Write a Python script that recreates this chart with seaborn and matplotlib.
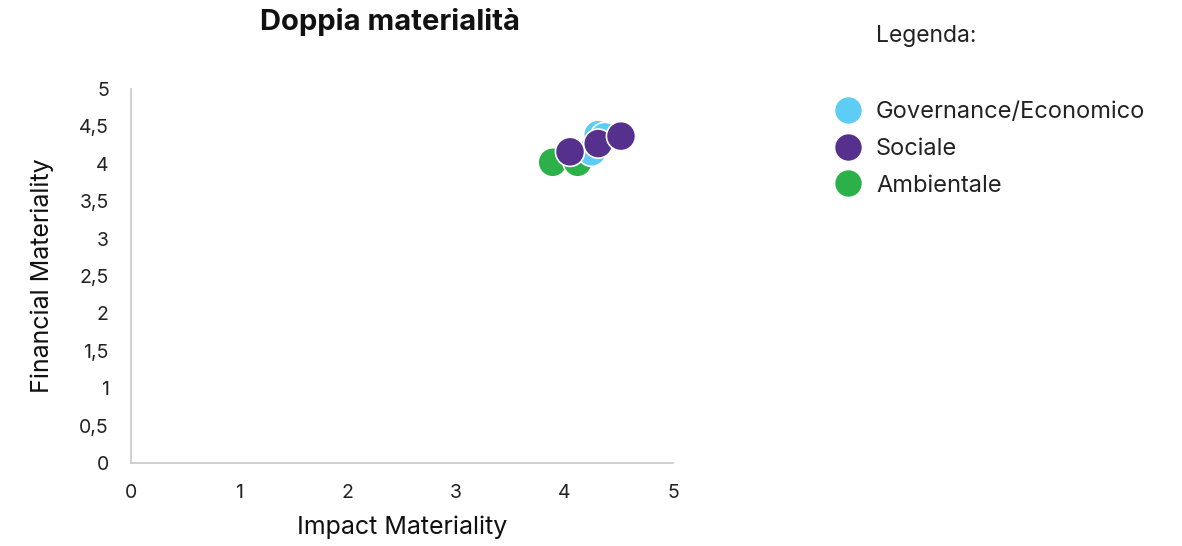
import pandas as pd
import seaborn as sns
import matplotlib.pyplot as plt
from matplotlib.ticker import FuncFormatter

# Values
categories = ['Ambientale', 'Ambientale', 'Governance/Economico', 'Governance/Economico',
              'Governance/Economico', 'Sociale', 'Sociale', 'Sociale']
impact = [3.89, 4.12, 4.25, 4.31, 4.37, 4.31, 4.52, 4.05]
financial = [4.02, 4.02, 4.16, 4.39, 4.36, 4.27, 4.37, 4.16]

hue_order = ['Governance/Economico', 'Sociale', 'Ambientale']
palette = {'Governance/Economico': '#5DCDF5', 'Sociale': '#55308D', 'Ambientale': '#2BB04A'}

df = pd.DataFrame({'Impact Materiality': impact,
                   'Financial Materiality': financial,
                   'Categoria': categories})

sns.set_style("white")
plt.rcParams['font.family'] = ['Inter', 'DejaVu Sans']

fig = plt.figure(figsize=(11.82, 5.46), dpi=100)
ax = fig.add_axes([131 / 1182, 1 - 463 / 546, 542 / 1182, 374 / 546])

sns.scatterplot(data=df, x='Impact Materiality', y='Financial Materiality',
                hue='Categoria', hue_order=hue_order, palette=palette,
                s=440, edgecolor='white', linewidth=1.2, ax=ax, legend=False)

ax.set_xlim(0, 5)
ax.set_ylim(0, 5)
ax.set_xticks([0, 1, 2, 3, 4, 5])
ax.set_yticks([i * 0.5 for i in range(11)])
fmt = FuncFormatter(lambda v, p: ('%g' % v).replace('.', ','))
ax.xaxis.set_major_formatter(fmt)
ax.yaxis.set_major_formatter(fmt)
ax.tick_params(axis='both', length=0, labelsize=14, colors='#222222', pad=15)
ax.tick_params(axis='y', pad=16)
for side in ['top', 'right']:
    ax.spines[side].set_visible(False)
for side in ['left', 'bottom']:
    ax.spines[side].set_color('#c8c8c8')
    ax.spines[side].set_linewidth(1.2)

ax.set_xlabel('Impact Materiality', fontsize=18, color='#111111', labelpad=10)
ax.set_ylabel('Financial Materiality', fontsize=18, color='#111111', labelpad=18)
fig.text(390 / 1182, 1 - 22 / 546, 'Doppia materialità', ha='center', va='center',
         fontsize=21, fontweight='bold', color='#111111')

# Legend
fig.text(876 / 1182, 1 - 36 / 546, 'Legenda:', ha='left', va='center',
         fontsize=16.5, color='#222222')
handles = [plt.Line2D([], [], marker='o', linestyle='', markersize=20,
                      markerfacecolor=palette[c], markeredgecolor='white') for c in hue_order]
fig.legend(handles, hue_order, loc='upper left', bbox_to_anchor=(824 / 1182, 1 - 92 / 546),
           frameon=False, fontsize=17, handletextpad=0.6, labelspacing=0.62,
           borderaxespad=0, handlelength=1.2, labelcolor='#222222')

fig.savefig('out.png', dpi=100)
